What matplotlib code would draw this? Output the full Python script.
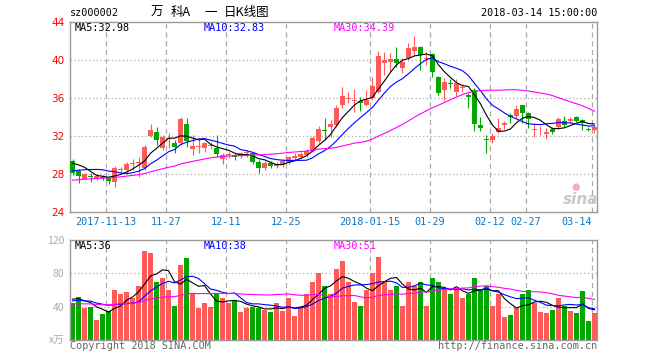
import numpy as np
import pandas as pd
import matplotlib
matplotlib.use('Agg')
import matplotlib.pyplot as plt

# ---------------- data ----------------
holidays = ['2018-01-01', '2018-02-15', '2018-02-16', '2018-02-19', '2018-02-20', '2018-02-21']
dates = [d for d in pd.bdate_range('2017-11-03', '2018-03-14') if d.strftime('%Y-%m-%d') not in holidays]

open_ = [29.3, 28.3, 27.46, 27.7, 27.5, 27.65, 27.6, 27.15, 28.4, 28.4,
         29.0, 29.1, 28.6, 32.0, 32.4, 30.7, 31.7, 31.25, 31.2, 33.2,
         30.6, 30.8, 30.67, 30.95, 30.65, 29.5, 30.0, 30.0, 29.86, 30.2,
         30.14, 29.25, 28.6, 29.1, 28.8, 28.9, 29.2, 29.6, 29.8, 30.0,
         30.4, 31.4, 32.6, 32.95, 33.13, 35.24, 35.9, 35.7, 35.7, 35.24,
         35.95, 36.64, 39.7, 39.75, 40.06, 39.1, 40.17, 40.97, 41.4, 40.1,
         40.62, 38.23, 36.82, 37.6, 36.64, 37.05, 36.3, 36.82, 33.13, 31.6,
         31.55, 32.42, 33.13, 34.18, 34.11, 35.24, 34.36, 32.65, 32.45, 32.15,
         32.67, 32.95, 33.58, 33.58, 33.94, 33.66, 32.7, 32.6]
high = [29.55, 28.45, 28.05, 28.05, 27.95, 27.8, 27.75, 28.75, 28.7, 29.25,
        29.5, 29.7, 31.0, 33.25, 32.9, 32.1, 32.3, 31.55, 34.0, 33.9,
        32.1, 31.75, 31.35, 31.35, 32.1, 30.2, 30.3, 30.2, 30.3, 30.5,
        30.2, 29.4, 29.3, 29.3, 29.2, 29.5, 29.9, 30.2, 30.3, 30.6,
        32.0, 33.0, 33.84, 33.7, 35.2, 37.17, 36.6, 36.9, 36.1, 36.8,
        38.2, 40.94, 40.87, 40.7, 41.4, 40.15, 41.8, 42.52, 41.45, 40.8,
        40.76, 38.3, 38.06, 38.0, 38.0, 37.5, 36.47, 37.0, 34.0, 32.07,
        32.32, 33.84, 33.6, 34.36, 35.24, 35.24, 34.5, 33.3, 33.0, 32.8,
        32.9, 33.95, 34.1, 34.0, 34.08, 33.8, 32.9, 33.1]
low = [27.85, 27.0, 27.33, 27.14, 27.3, 27.35, 26.85, 26.6, 28.1, 28.05,
       28.4, 27.6, 28.4, 31.9, 31.0, 30.5, 30.7, 30.2, 31.0, 30.84,
       30.0, 30.2, 30.3, 30.6, 29.8, 29.0, 29.6, 29.4, 29.6, 29.8,
       29.0, 28.05, 28.4, 28.6, 28.6, 28.7, 29.0, 29.4, 29.6, 29.8,
       30.3, 31.2, 31.5, 31.9, 32.9, 34.9, 35.42, 34.53, 34.6, 35.1,
       35.77, 36.5, 38.4, 38.86, 39.3, 38.65, 40.0, 40.5, 38.93, 39.46,
       38.2, 36.3, 35.7, 37.0, 36.2, 36.6, 34.9, 32.53, 32.5, 30.2,
       31.26, 32.25, 32.67, 33.3, 33.84, 33.3, 32.78, 31.9, 32.07, 31.62,
       32.18, 32.67, 32.95, 33.3, 33.4, 32.6, 32.5, 32.25]
close = [28.05, 27.7, 27.93, 27.65, 27.75, 27.55, 27.2, 28.55, 28.5, 29.0,
         29.15, 29.2, 30.8, 32.6, 31.55, 31.9, 31.8, 30.85, 33.8, 31.4,
         30.9, 30.9, 31.2, 31.05, 30.05, 29.96, 30.05, 29.7, 30.14, 30.25,
         29.25, 28.56, 29.1, 28.8, 29.0, 29.3, 29.7, 29.9, 30.1, 30.4,
         31.8, 32.7, 32.5, 33.23, 34.96, 36.22, 36.0, 35.8, 35.48, 35.77,
         37.25, 40.41, 39.99, 40.06, 39.64, 39.8, 41.22, 41.4, 40.52, 40.2,
         38.76, 36.54, 37.7, 37.5, 37.53, 37.15, 36.1, 33.2, 32.84, 31.5,
         31.97, 32.78, 33.37, 33.94, 34.79, 34.36, 33.73, 32.72, 32.52, 32.42,
         32.36, 33.73, 33.13, 33.76, 33.58, 33.3, 32.65, 32.9]
volume = [45, 51.5, 38.8, 39.6, 23.8, 30.9, 34.8, 60, 55, 58,
          50, 65, 107, 104, 70, 75, 60, 40.4, 90, 98,
          55, 38.8, 45, 39.6, 55, 50, 45, 48, 33.7, 38.8,
          39.6, 38.8, 35.6, 33.7, 45, 34.8, 50, 28.5, 39.6, 55,
          70, 80, 65, 55, 85, 95, 70, 45.5, 40.4, 60,
          80, 100, 70, 60, 65, 40.4, 70, 65, 70, 40.4,
          75, 70, 60, 55, 60, 50, 55, 75, 60, 65,
          40.4, 55, 27.7, 29.7, 38.8, 55, 60, 45, 33.7, 32.5,
          36.4, 50, 40.4, 34.8, 32.5, 59, 23, 32.5]
# closes / volumes of the 29 sessions before the first candle (feed the moving averages)
prior_close = [26.2, 26.4, 26.3, 26.5, 26.6, 26.5, 26.7, 26.9, 26.8, 27.0,
               26.9, 27.1, 27.0, 26.8, 27.0, 27.1, 27.2, 27.0, 27.1, 27.0,
               27.2, 27.3, 27.5, 27.6, 27.9, 28.6, 29.2, 29.8, 29.85]
prior_volume = [38, 42, 40, 44, 39, 41, 43, 37, 42, 40,
                45, 39, 41, 43, 40, 38, 42, 44, 41, 41,
                44, 46, 43, 47, 45, 48, 52, 50, 50]

tick_dates = ['2017-11-13', '2017-11-27', '2017-12-11', '2017-12-25', '2018-01-15',
              '2018-01-29', '2018-02-12', '2018-02-27', '2018-03-14']
tick_labels = ['2017-11-13', '11-27', '12-11', '12-25', '2018-01-15',
               '01-29', '02-12', '02-27', '03-14']
price_ticks = [24, 28, 32, 36, 40, 44]
vol_ticks = [40, 80, 120]
ma_windows = [5, 10, 30]
price_ma_text = ['MA5:32.98', 'MA10:32.83', 'MA30:34.39']
vol_ma_text = ['MA5:36', 'MA10:38', 'MA30:51']
title_parts = ['万', '科A', '一', '日K线图']

# ---------------- styling ----------------
RED = '#ff5a5a'
GREEN = '#00a800'
MA_COLORS = ['#000000', '#0000ff', '#ff00ff']
BORDER = '#999999'
GRID = '#aaaaaa'
MONO = 'DejaVu Sans Mono'
CJK = ['Noto Sans CJK SC', 'DejaVu Sans']
plt.rcParams['font.family'] = ['DejaVu Sans']

W, H = 660, 360
fig = plt.figure(figsize=(W / 100, H / 100), dpi=100)
fig.patch.set_facecolor('white')


def fx(px):
    return px / W


def fy(py):
    return 1 - py / H


L, R = 70, 597
ax = fig.add_axes([fx(L), fy(211.5), fx(R - L), fy(22) - fy(211.5)])
axv = fig.add_axes([fx(L), fy(340), fx(R - L), fy(240) - fy(340)])

n = len(close)
x = np.arange(n)
date_str = [d.strftime('%Y-%m-%d') for d in dates]
tick_pos = [date_str.index(t) - 0.4 for t in tick_dates]

o = np.array(open_)
c = np.array(close)
h = np.array(high)
lo = np.array(low)
up = c >= o
colors = [RED if u else GREEN for u in up]

for a in (ax, axv):
    a.set_xlim(-0.42, n - 1 + 0.42)
    for s in a.spines.values():
        s.set_color(BORDER)
        s.set_linewidth(1.0)
    a.set_xticks([])
    for tp in tick_pos:
        a.axvline(tp, color=GRID, lw=0.9, ls=(0, (4, 3)), zorder=0)

# --- price panel ---
ax.set_ylim(24, 44)
for yv in price_ticks[1:-1]:
    ax.axhline(yv, color=GRID, lw=0.9, ls=(0, (1, 2)), zorder=0)
ax.set_yticks(price_ticks)
ax.set_yticklabels([str(t) for t in price_ticks], color='#ff0000', fontsize=7.5)
ax.tick_params(axis='y', length=0, pad=4)

ax.vlines(x, lo, h, colors=colors, lw=0.8, zorder=2)
body_bottom = np.minimum(o, c)
body_h = np.maximum(np.abs(c - o), 0.05)
ax.bar(x, body_h, bottom=body_bottom, width=0.8, color=colors, linewidth=0, zorder=3)

all_close = pd.Series(prior_close + close)
for w, col in zip(ma_windows, MA_COLORS):
    ma = all_close.rolling(w).mean().iloc[len(prior_close):].to_numpy()
    ax.plot(x, ma, color=col, lw=0.8, zorder=4)

for txt, col, px in zip(price_ma_text, MA_COLORS, [75, 204, 334]):
    ax.text((px - L) / (R - L), 0.968, txt, transform=ax.transAxes, color=col,
            fontsize=7.3, family=MONO, va='center', ha='left')

xtrans = ax.get_xaxis_transform()
for i, (tp, lab) in enumerate(zip(tick_pos, tick_labels)):
    ha = 'right' if i == len(tick_pos) - 1 else 'center'
    ax.text(tp, -0.055, lab, transform=xtrans, color='#0a78c8', fontsize=7.3,
            family=MONO, ha=ha, va='center', clip_on=False)

# --- volume panel ---
axv.set_ylim(0, 120)
for yv in vol_ticks[:-1]:
    axv.axhline(yv, color=GRID, lw=0.9, ls=(0, (1, 2)), zorder=0)
axv.set_yticks([0] + vol_ticks)
axv.set_yticklabels(['x万'] + [str(t) for t in vol_ticks], color='#aaaaaa', fontsize=7.5)
for lbl in axv.get_yticklabels():
    lbl.set_family(CJK)
axv.tick_params(axis='y', length=0, pad=4)
axv.bar(x, volume, width=0.82, color=colors, linewidth=0, zorder=2)

all_vol = pd.Series(prior_volume + volume)
for w, col in zip(ma_windows, MA_COLORS):
    ma = all_vol.rolling(w).mean().iloc[len(prior_volume):].to_numpy()
    axv.plot(x, ma, color=col, lw=0.8, zorder=4)

for txt, col, px in zip(vol_ma_text, MA_COLORS, [75, 204, 334]):
    axv.text((px - L) / (R - L), 0.94, txt, transform=axv.transAxes, color=col,
             fontsize=7.3, family=MONO, va='center', ha='left')

# --- header / footer ---
fig.text(fx(70), fy(13), 'sz000002', fontsize=7.3, family=MONO, color='#000000', va='center', ha='left')
for part, px in zip(title_parts, [151, 171, 204, 224]):
    fig.text(fx(px), fy(12.5), part, fontsize=9, family=CJK, color='#000000', va='center', ha='left')
fig.text(fx(597), fy(13), '2018-03-14 15:00:00', fontsize=7.3, family=MONO, color='#000000',
         va='center', ha='right')
fig.text(fx(70), fy(346), 'Copyright 2018 SINA.COM', fontsize=7.3, family=MONO, color='#666666',
         va='center', ha='left')
fig.text(fx(597), fy(346), 'http://finance.sina.com.cn', fontsize=7.3, family=MONO, color='#666666',
         va='center', ha='right')

# --- sina watermark ---
fig.text(fx(581), fy(199), 'sina', fontsize=11, fontweight='bold', style='italic', color='#c8c8c8',
         va='center', ha='center')
fig.text(fx(576), fy(187), '●', fontsize=7, color='#f7b0b8', va='center', ha='center')

fig.savefig('out.png', dpi=100, facecolor='white')
